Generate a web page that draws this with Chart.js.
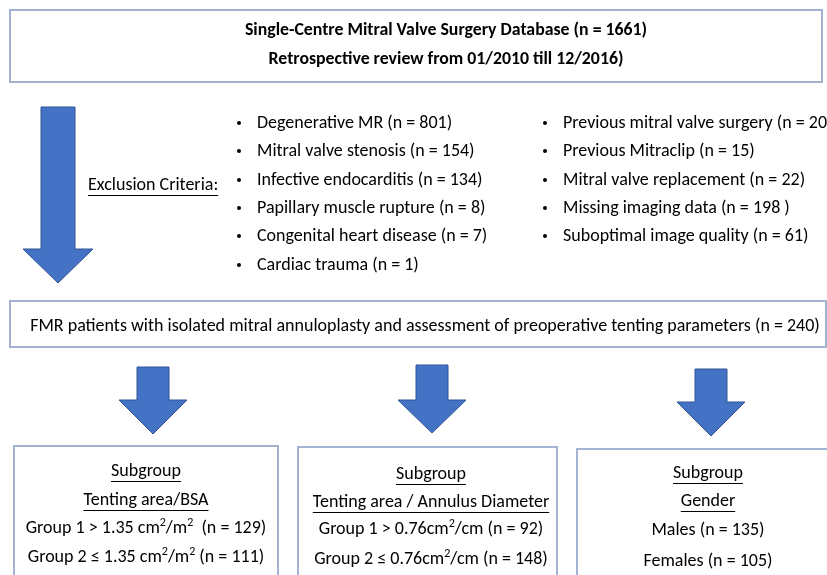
<!DOCTYPE html>
<html>
<head>
<meta charset="utf-8">
<script src="https://cdn.jsdelivr.net/npm/chart.js@4"></script>
<style>
  body { margin: 0; background: #fff; }
  canvas { display: block; }
</style>
</head>
<body>
<canvas id="flow" width="827" height="575"></canvas>
<script>
// text and counts
const titleLines = ['Single-Centre Mitral Valve Surgery Database (n = 1661)', 'Retrospective review from 01/2010 till 12/2016)']
const exclusionLabel = 'Exclusion Criteria:'
const exclusionLeft = ['Degenerative MR', 'Mitral valve stenosis', 'Infective endocarditis', 'Papillary muscle rupture', 'Congenital heart disease', 'Cardiac trauma']
const exclusionLeftN = [801, 154, 134, 8, 7, 1]
const exclusionRight = ['Previous mitral valve surgery', 'Previous Mitraclip', 'Mitral valve replacement', 'Missing imaging data', 'Suboptimal image quality']
const exclusionRightN = [20, 15, 22, '198 ', 61]
const cohortLabel = 'FMR patients with isolated mitral annuloplasty and assessment of preoperative tenting parameters'
const cohortN = 240
const subgroupTitles = ['Tenting area/BSA', 'Tenting area / Annulus Diameter', 'Gender']
const subgroupRows = [
    ['Group 1 > 1.35 cm²/m² ', 'Group 2 ≤ 1.35 cm²/m²'],
    ['Group 1 > 0.76cm²/cm', 'Group 2 ≤ 0.76cm²/cm'],
    ['Males', 'Females']
]
const subgroupN = [[129, 111], [92, 148], [135, 105]]

const arrowColor = '#4472c4'
const arrowEdge = '#2f5597'
const boxColor = '#a4b3d4'
const textColor = '#000'
const fontFamily = 'Carlito, Lato, sans-serif'

function nText(label, n) {
    return label + ' (n = ' + n + ')'
}

// layout in chart units (scales run 0..827 and 0..575)
const topBox = { x0: 10, y0: 10, x1: 822, y1: 82 }
const cohortBox = { x0: 10, y0: 301, x1: 826, y1: 347 }
const subBoxes = [
    { x0: 14, y0: 446, x1: 278, y1: 590 },
    { x0: 298, y0: 447, x1: 557, y1: 590 },
    { x0: 577, y0: 449, x1: 840, y1: 590 }
]
const bigArrow = { cx: 58, top: 107, neck: 249, tip: 283, shaft: 17, head: 35 }
const smallArrows = [
    { cx: 153, top: 367, neck: 400, tip: 434, shaft: 16, head: 34 },
    { cx: 432, top: 365, neck: 400, tip: 433, shaft: 16, head: 34 },
    { cx: 711, top: 369, neck: 402, tip: 436, shaft: 16, head: 34 }
]

const flowPlugin = {
    id: 'flow',
    beforeDraw(chart) {
        const ctx = chart.ctx
        ctx.save()
        ctx.fillStyle = '#fff'
        ctx.fillRect(0, 0, chart.width, chart.height)
        ctx.restore()
    },
    afterDraw(chart) {
        const ctx = chart.ctx
        const sx = chart.scales.x
        const sy = chart.scales.y
        const px = v => sx.getPixelForValue(v)
        const py = v => sy.getPixelForValue(v)

        function box(b) {
            ctx.save()
            ctx.strokeStyle = boxColor
            ctx.lineWidth = 2
            ctx.strokeRect(px(b.x0), py(b.y0), px(b.x1) - px(b.x0), py(b.y1) - py(b.y0))
            ctx.restore()
        }

        function arrow(a) {
            ctx.save()
            ctx.beginPath()
            ctx.moveTo(px(a.cx - a.shaft), py(a.top))
            ctx.lineTo(px(a.cx + a.shaft), py(a.top))
            ctx.lineTo(px(a.cx + a.shaft), py(a.neck))
            ctx.lineTo(px(a.cx + a.head), py(a.neck))
            ctx.lineTo(px(a.cx), py(a.tip))
            ctx.lineTo(px(a.cx - a.head), py(a.neck))
            ctx.lineTo(px(a.cx - a.shaft), py(a.neck))
            ctx.closePath()
            ctx.fillStyle = arrowColor
            ctx.fill()
            ctx.strokeStyle = arrowEdge
            ctx.lineWidth = 1
            ctx.stroke()
            ctx.restore()
        }

        // splits text so a '²' is drawn as a small raised 2
        function pieces(str) {
            return str.split(/(²)/).filter(s => s.length)
        }

        function text(str, x, y, align, opts) {
            opts = opts || {}
            const size = opts.size || 18
            const font = (opts.bold ? 'bold ' : '') + size + 'px ' + fontFamily
            const supFont = Math.round(size * 0.68) + 'px ' + fontFamily
            ctx.save()
            ctx.fillStyle = textColor
            ctx.textBaseline = 'middle'
            ctx.textAlign = 'left'
            const parts = pieces(str)
            let w = 0
            parts.forEach(p => {
                ctx.font = p === '²' ? supFont : font
                w += ctx.measureText(p === '²' ? '2' : p).width
            })
            let left = px(x)
            if (align === 'center') left -= w / 2
            if (align === 'right') left -= w
            let cur = left
            parts.forEach(p => {
                if (p === '²') {
                    ctx.font = supFont
                    ctx.fillText('2', cur, py(y) - 5)
                    cur += ctx.measureText('2').width
                } else {
                    ctx.font = font
                    ctx.fillText(p, cur, py(y))
                    cur += ctx.measureText(p).width
                }
            })
            if (opts.underline) {
                ctx.strokeStyle = textColor
                ctx.lineWidth = 1
                ctx.beginPath()
                ctx.moveTo(left, Math.round(py(y) + 10) + 0.5)
                ctx.lineTo(left + w, Math.round(py(y) + 10) + 0.5)
                ctx.stroke()
            }
            ctx.restore()
        }

        function bullet(x, y) {
            ctx.save()
            ctx.fillStyle = textColor
            ctx.beginPath()
            ctx.arc(px(x), py(y), 2, 0, Math.PI * 2)
            ctx.fill()
            ctx.restore()
        }

        // database box
        box(topBox)
        text(titleLines[0], 446, 31, 'center', { bold: true, size: 17.8 })
        text(titleLines[1], 446, 60, 'center', { bold: true, size: 17.8 })

        // exclusion arrow and lists
        arrow(bigArrow)
        text(exclusionLabel, 88, 185, 'left', { underline: true })
        const rowY = [123, 151, 180, 208, 236, 265]
        exclusionLeft.forEach((label, i) => {
            bullet(239, rowY[i])
            text(nText(label, exclusionLeftN[i]), 257, rowY[i], 'left')
        })
        exclusionRight.forEach((label, i) => {
            bullet(545, rowY[i])
            text(nText(label, exclusionRightN[i]), 563, rowY[i], 'left')
        })

        // cohort box
        box(cohortBox)
        text(nText(cohortLabel, cohortN), 425, 326, 'center')

        // subgroups
        smallArrows.forEach(arrow)
        const centres = [146, 431, 708]
        const lineY = [[471, 500, 528, 557], [474, 502, 529, 559], [473, 501, 530, 561]]
        subBoxes.forEach((b, i) => {
            box(b)
            text('Subgroup', centres[i], lineY[i][0], 'center', { underline: true })
            text(subgroupTitles[i], centres[i], lineY[i][1], 'center', { underline: true })
            subgroupRows[i].forEach((row, j) => {
                text(nText(row, subgroupN[i][j]), centres[i], lineY[i][2 + j], 'center')
            })
        })
    }
}

new Chart(document.getElementById('flow'), {
    type: 'scatter',
    data: { datasets: [{ data: [], pointRadius: 0 }] },
    options: {
        responsive: false,
        animation: false,
        layout: { padding: 0 },
        plugins: { legend: { display: false }, tooltip: { enabled: false } },
        scales: {
            x: { type: 'linear', min: 0, max: 827, display: false },
            y: { type: 'linear', min: 0, max: 575, reverse: true, display: false }
        }
    },
    plugins: [flowPlugin]
})
</script>
</body>
</html>
